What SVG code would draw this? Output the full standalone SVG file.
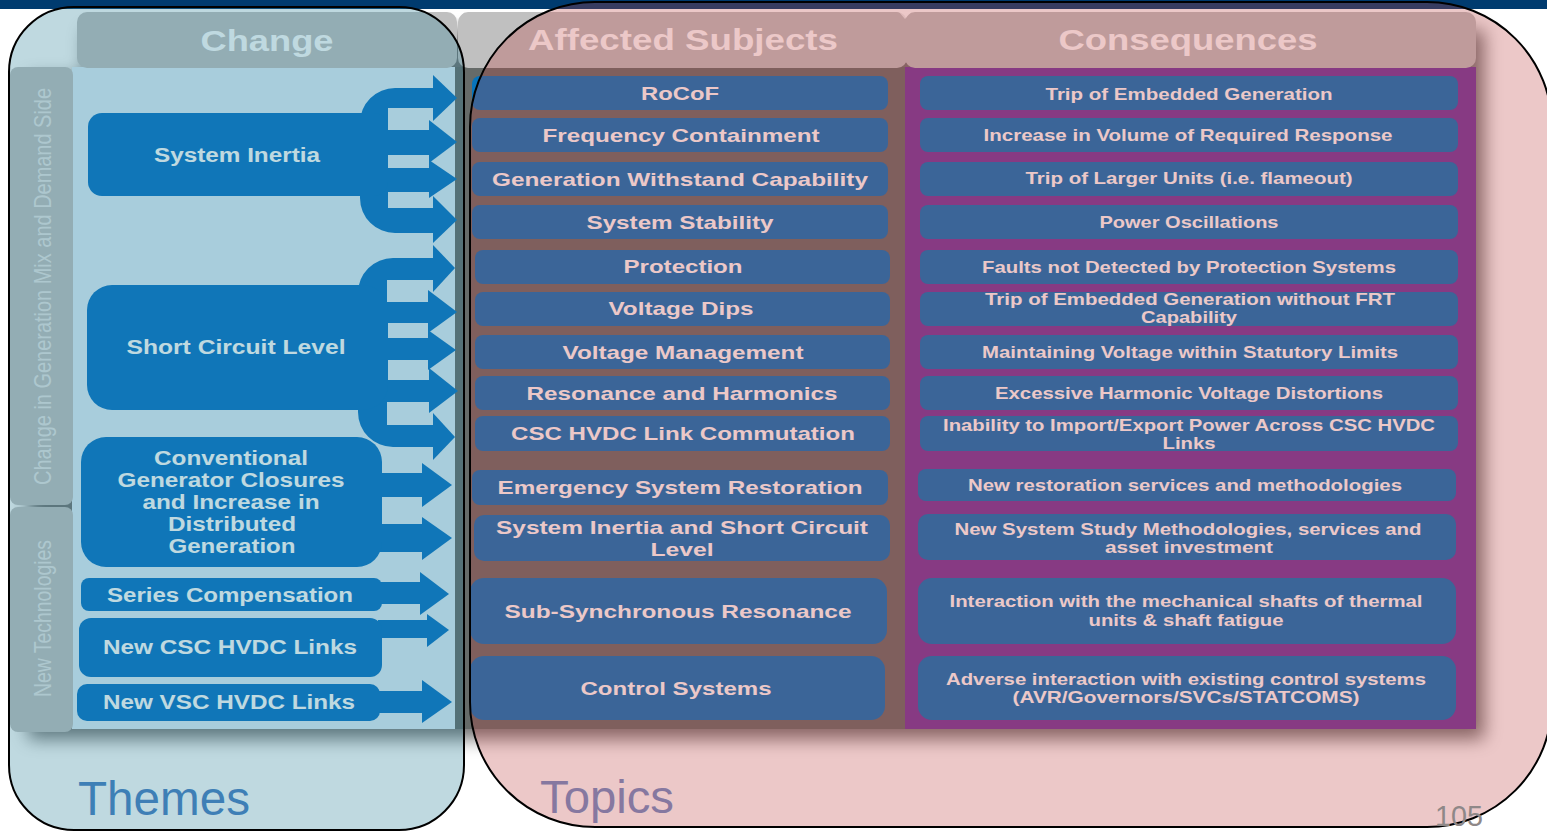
<svg xmlns="http://www.w3.org/2000/svg" width="1547" height="831" viewBox="0 0 1547 831">
<defs>
<style>
text{font-family:"Liberation Sans",Arial,Helvetica,sans-serif}
.h{font-weight:bold;font-size:29px;fill:#ffffff;text-anchor:middle}
.c{font-weight:bold;font-size:20px;fill:#ffffff;text-anchor:middle}
.a{font-weight:bold;font-size:19px;fill:#ffffff;text-anchor:middle}
.q{font-weight:bold;font-size:16.5px;fill:#ffffff;text-anchor:middle}
.v{font-size:20px;fill:#e6e6e6;text-anchor:middle}
.cb{fill:#0572c6}
.ab{fill:#0774bc}
.hd{fill:#c0c0c0}
.notch{fill:#ffffff;opacity:0.7}
</style>
<filter id="blur" x="-5%" y="-5%" width="110%" height="115%"><feGaussianBlur stdDeviation="9"/></filter>
</defs>

<rect x="0" y="0" width="1547" height="831" fill="#ffffff"/>
<rect x="0" y="0" width="1547" height="9" fill="#003b6f"/>

<!-- table shadow -->
<g opacity="0.55" filter="url(#blur)" transform="translate(8,10)">
  <rect x="77" y="20" width="1399" height="50" fill="#000000"/>
  <rect x="20" y="67" width="1456" height="662" fill="#000000"/>
</g>

<!-- table base -->
<g id="table">
  <rect x="455" y="67" width="450" height="662" fill="#666b69"/>
  <rect x="905" y="67" width="571" height="662" fill="#71379e"/>
  <rect x="72" y="67" width="383" height="662" fill="#deeef9"/>
</g>

<g id="header-change">
  <rect class="hd" x="77" y="12" width="380" height="56" rx="10"/>
  <text class="h" x="267" y="51" textLength="133" lengthAdjust="spacingAndGlyphs">Change</text>
</g>
<g id="header-affected">
  <rect class="hd" x="458" y="12" width="449" height="56" rx="10"/>
  <text class="h" x="683" y="50" textLength="310" lengthAdjust="spacingAndGlyphs">Affected Subjects</text>
</g>
<g id="header-consequences">
  <rect class="hd" x="905" y="12" width="571" height="56" rx="10"/>
  <text class="h" x="1188" y="50" textLength="259" lengthAdjust="spacingAndGlyphs">Consequences</text>
</g>
<polygon class="notch" points="452,12 464,12 458,19"/>
<polygon class="notch" points="899,12 911,12 905,19"/>

<g id="band-generation">
  <rect class="hd" x="10" y="67" width="63" height="438" rx="8"/>
  <text class="v" transform="translate(51,286.5) rotate(-90) scale(1,1.2)" x="0" y="0" textLength="397" lengthAdjust="spacingAndGlyphs">Change in Generation Mix and Demand Side</text>
</g>
<g id="band-newtech">
  <rect class="hd" x="10" y="507" width="63" height="225" rx="8"/>
  <text class="v" transform="translate(51,618.5) rotate(-90) scale(1,1.2)" x="0" y="0" textLength="157" lengthAdjust="spacingAndGlyphs">New Technologies</text>
</g>

<!-- connectors: fork arrows from change themes to subjects -->
<g id="connectors">
  <path class="cb" d="M360 123 A35 35 0 0 1 395 88 H434 V108 H388 V130 H430 V155 H388 V168 H430 V192 H388 V208 H434 V233 H395 A35 35 0 0 1 360 198 Z"/>
  <polygon class="cb" points="433,75 457,98 433,121"/>
  <polygon class="cb" points="429,120 457,142 429,163"/>
  <polygon class="cb" points="429,160 457,179 429,198"/>
  <polygon class="cb" points="433,196 457,220 433,243"/>

  <path class="cb" d="M358 293 A35 35 0 0 1 393 258 H434 V280 H387 V302 H428 V323 H387 V338 H428 V360 H387 V380 H429 V402 H387 V425 H434 V447 H393 A35 35 0 0 1 358 412 Z"/>
  <polygon class="cb" points="433,245 455,268 433,292"/>
  <polygon class="cb" points="428,290 457,312 428,333"/>
  <polygon class="cb" points="428,330 456,350 428,370"/>
  <polygon class="cb" points="429,368 458,391 429,413"/>
  <polygon class="cb" points="433,413 455,437 433,460"/>

  <rect class="cb" x="378" y="473" width="45" height="24"/>
  <polygon class="cb" points="422,463 452,485 422,507"/>
  <rect class="cb" x="378" y="524" width="45" height="28"/>
  <polygon class="cb" points="422,517 452,538 422,560"/>

  <rect class="cb" x="378" y="582" width="43" height="22"/>
  <polygon class="cb" points="420,572 449,594 420,615"/>

  <rect class="cb" x="378" y="620" width="50" height="18"/>
  <polygon class="cb" points="427,614 449,630 427,647"/>

  <rect class="cb" x="376" y="691" width="47" height="22"/>
  <polygon class="cb" points="422,680 452,702 422,723"/>
</g>

<!-- change nodes -->
<g id="change-system-inertia">
  <rect class="cb" x="88" y="113" width="300" height="83" rx="14"/>
  <text class="c" x="237" y="162" textLength="166" lengthAdjust="spacingAndGlyphs">System Inertia</text>
</g>
<g id="change-short-circuit">
  <rect class="cb" x="87" y="285" width="301" height="125" rx="25"/>
  <text class="c" x="236" y="354" textLength="219" lengthAdjust="spacingAndGlyphs">Short Circuit Level</text>
</g>
<g id="change-conventional">
  <rect class="cb" x="81" y="437" width="301" height="130" rx="25"/>
  <text class="c" x="231" y="465" textLength="154" lengthAdjust="spacingAndGlyphs">Conventional</text>
  <text class="c" x="231" y="487" textLength="227" lengthAdjust="spacingAndGlyphs">Generator Closures</text>
  <text class="c" x="231" y="509" textLength="177" lengthAdjust="spacingAndGlyphs">and Increase in</text>
  <text class="c" x="232" y="531" textLength="128" lengthAdjust="spacingAndGlyphs">Distributed</text>
  <text class="c" x="232" y="553" textLength="127" lengthAdjust="spacingAndGlyphs">Generation</text>
</g>
<g id="change-series">
  <rect class="cb" x="81" y="578" width="301" height="33" rx="8"/>
  <text class="c" x="230" y="602" textLength="246" lengthAdjust="spacingAndGlyphs">Series Compensation</text>
</g>
<g id="change-csc">
  <rect class="cb" x="79" y="618" width="303" height="59" rx="12"/>
  <text class="c" x="230" y="654" textLength="254" lengthAdjust="spacingAndGlyphs">New CSC HVDC Links</text>
</g>
<g id="change-vsc">
  <rect class="cb" x="77" y="684" width="303" height="37" rx="10"/>
  <text class="c" x="229" y="709" textLength="252" lengthAdjust="spacingAndGlyphs">New VSC HVDC Links</text>
</g>

<!-- affected subjects -->
<g id="subj-rocof"><rect class="ab" x="472" y="76" width="416" height="34" rx="8"/><text class="a" x="680" y="100" textLength="78" lengthAdjust="spacingAndGlyphs">RoCoF</text></g>
<g id="subj-freq"><rect class="ab" x="472" y="118" width="416" height="34" rx="8"/><text class="a" x="681" y="142" textLength="277" lengthAdjust="spacingAndGlyphs">Frequency Containment</text></g>
<g id="subj-withstand"><rect class="ab" x="472" y="162" width="416" height="34" rx="8"/><text class="a" x="680" y="186" textLength="376" lengthAdjust="spacingAndGlyphs">Generation Withstand Capability</text></g>
<g id="subj-stability"><rect class="ab" x="472" y="205" width="416" height="34" rx="8"/><text class="a" x="680" y="229" textLength="187" lengthAdjust="spacingAndGlyphs">System Stability</text></g>
<g id="subj-protection"><rect class="ab" x="475" y="250" width="415" height="34" rx="8"/><text class="a" x="683" y="273" textLength="119" lengthAdjust="spacingAndGlyphs">Protection</text></g>
<g id="subj-dips"><rect class="ab" x="475" y="292" width="415" height="34" rx="8"/><text class="a" x="681" y="315" textLength="145" lengthAdjust="spacingAndGlyphs">Voltage Dips</text></g>
<g id="subj-vm"><rect class="ab" x="475" y="335" width="415" height="34" rx="8"/><text class="a" x="683" y="359" textLength="241" lengthAdjust="spacingAndGlyphs">Voltage Management</text></g>
<g id="subj-res"><rect class="ab" x="475" y="376" width="415" height="34" rx="8"/><text class="a" x="682" y="400" textLength="311" lengthAdjust="spacingAndGlyphs">Resonance and Harmonics</text></g>
<g id="subj-csc"><rect class="ab" x="475" y="416" width="415" height="35" rx="8"/><text class="a" x="683" y="440" textLength="344" lengthAdjust="spacingAndGlyphs">CSC HVDC Link Commutation</text></g>
<g id="subj-emerg"><rect class="ab" x="472" y="470" width="416" height="35" rx="8"/><text class="a" x="680" y="494" textLength="365" lengthAdjust="spacingAndGlyphs">Emergency System Restoration</text></g>
<g id="subj-sisc"><rect class="ab" x="474" y="515" width="416" height="46" rx="10"/><text class="a" x="682" y="534" textLength="372" lengthAdjust="spacingAndGlyphs">System Inertia and Short Circuit</text><text class="a" x="682" y="556" textLength="63" lengthAdjust="spacingAndGlyphs">Level</text></g>
<g id="subj-ssr"><rect class="ab" x="470" y="578" width="417" height="66" rx="14"/><text class="a" x="678" y="618" textLength="347" lengthAdjust="spacingAndGlyphs">Sub-Synchronous Resonance</text></g>
<g id="subj-control"><rect class="ab" x="470" y="656" width="415" height="64" rx="14"/><text class="a" x="676" y="695" textLength="191" lengthAdjust="spacingAndGlyphs">Control Systems</text></g>

<!-- consequences -->
<g id="cons-1"><rect class="ab" x="920" y="76" width="538" height="34" rx="8"/><text class="q" x="1189" y="100" textLength="287" lengthAdjust="spacingAndGlyphs">Trip of Embedded Generation</text></g>
<g id="cons-2"><rect class="ab" x="920" y="118" width="538" height="34" rx="8"/><text class="q" x="1188" y="141" textLength="409" lengthAdjust="spacingAndGlyphs">Increase in Volume of Required Response</text></g>
<g id="cons-3"><rect class="ab" x="920" y="162" width="538" height="34" rx="8"/><text class="q" x="1189" y="184" textLength="327" lengthAdjust="spacingAndGlyphs">Trip of Larger Units (i.e. flameout)</text></g>
<g id="cons-4"><rect class="ab" x="920" y="205" width="538" height="34" rx="8"/><text class="q" x="1189" y="228" textLength="179" lengthAdjust="spacingAndGlyphs">Power Oscillations</text></g>
<g id="cons-5"><rect class="ab" x="920" y="250" width="538" height="34" rx="8"/><text class="q" x="1189" y="273" textLength="414" lengthAdjust="spacingAndGlyphs">Faults not Detected by Protection Systems</text></g>
<g id="cons-6"><rect class="ab" x="920" y="292" width="538" height="34" rx="8"/><text class="q" x="1190" y="305" textLength="410" lengthAdjust="spacingAndGlyphs">Trip of Embedded Generation without FRT</text><text class="q" x="1189" y="323" textLength="96" lengthAdjust="spacingAndGlyphs">Capability</text></g>
<g id="cons-7"><rect class="ab" x="920" y="335" width="538" height="34" rx="8"/><text class="q" x="1190" y="358" textLength="416" lengthAdjust="spacingAndGlyphs">Maintaining Voltage within Statutory Limits</text></g>
<g id="cons-8"><rect class="ab" x="920" y="376" width="538" height="34" rx="8"/><text class="q" x="1189" y="399" textLength="388" lengthAdjust="spacingAndGlyphs">Excessive Harmonic Voltage Distortions</text></g>
<g id="cons-9"><rect class="ab" x="920" y="416" width="538" height="35" rx="8"/><text class="q" x="1189" y="431" textLength="492" lengthAdjust="spacingAndGlyphs">Inability to Import/Export Power Across CSC HVDC</text><text class="q" x="1189" y="449" textLength="53" lengthAdjust="spacingAndGlyphs">Links</text></g>
<g id="cons-10"><rect class="ab" x="918" y="469" width="538" height="32" rx="8"/><text class="q" x="1185" y="491" textLength="434" lengthAdjust="spacingAndGlyphs">New restoration services and methodologies</text></g>
<g id="cons-11"><rect class="ab" x="918" y="514" width="538" height="46" rx="10"/><text class="q" x="1188" y="535" textLength="467" lengthAdjust="spacingAndGlyphs">New System Study Methodologies, services and</text><text class="q" x="1189" y="553" textLength="168" lengthAdjust="spacingAndGlyphs">asset investment</text></g>
<g id="cons-12"><rect class="ab" x="918" y="578" width="538" height="66" rx="14"/><text class="q" x="1186" y="607" textLength="473" lengthAdjust="spacingAndGlyphs">Interaction with the mechanical shafts of thermal</text><text class="q" x="1186" y="626" textLength="195" lengthAdjust="spacingAndGlyphs">units &amp; shaft fatigue</text></g>
<g id="cons-13"><rect class="ab" x="918" y="656" width="538" height="64" rx="14"/><text class="q" x="1186" y="685" textLength="480" lengthAdjust="spacingAndGlyphs">Adverse interaction with existing control systems</text><text class="q" x="1186" y="703" textLength="347" lengthAdjust="spacingAndGlyphs">(AVR/Governors/SVCs/STATCOMS)</text></g>

<!-- grouping outlines -->
<g id="themes">
  <rect x="9" y="7" width="455" height="823" rx="65" ry="65" fill="rgb(42,128,152)" fill-opacity="0.3" stroke="#000000" stroke-width="2"/>
  <text x="78" y="815" font-size="48" fill="#3e7fb6" textLength="172" lengthAdjust="spacingAndGlyphs">Themes</text>
</g>
<g id="topics">
  <rect x="470" y="2" width="1082" height="825" rx="125" ry="125" fill="rgb(189,66,66)" fill-opacity="0.29" stroke="#000000" stroke-width="2"/>
  <text x="540" y="813" font-size="47" fill="#8678a0" textLength="134" lengthAdjust="spacingAndGlyphs">Topics</text>
</g>
<text x="1435" y="826" font-size="30" fill="#8f8888" textLength="48" lengthAdjust="spacingAndGlyphs">105</text>
</svg>
